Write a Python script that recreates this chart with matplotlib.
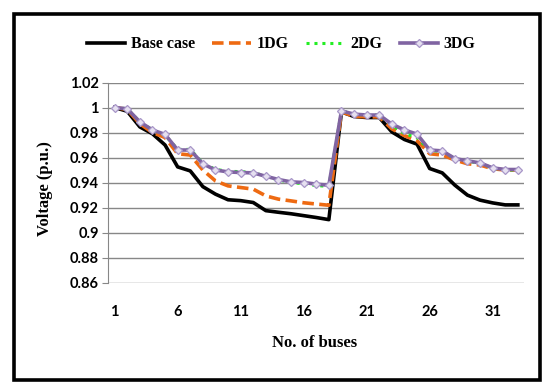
import numpy as np
import matplotlib
matplotlib.use('Agg')
import matplotlib.pyplot as plt
from matplotlib.patches import Rectangle

# Bus voltage profile (p.u.), 33 buses
buses = list(range(1, 34))
tick_buses = [1, 6, 11, 16, 21, 26, 31]

base_case = [1.0, 0.997, 0.9845, 0.979, 0.970, 0.9525, 0.9493, 0.9367, 0.9307, 0.9262,
             0.9255, 0.924, 0.9175, 0.9162, 0.915, 0.9135, 0.912, 0.9103,
             0.9965, 0.9928, 0.992, 0.992, 0.9805, 0.9744, 0.9707, 0.9512, 0.9477,
             0.9379, 0.9299, 0.9259, 0.9237, 0.9221, 0.9221]

dg1 = [1.0, 0.9985, 0.987, 0.980, 0.976, 0.963, 0.962, 0.950, 0.9413, 0.9373,
       0.936, 0.9347, 0.9293, 0.9267, 0.9253, 0.9238, 0.9228, 0.9218,
       0.9965, 0.993, 0.9925, 0.9925, 0.983, 0.9775, 0.9735, 0.963, 0.962,
       0.958, 0.955, 0.954, 0.951, 0.950, 0.950]

dg2 = [1.0, 0.999, 0.9885, 0.982, 0.978, 0.9665, 0.9665, 0.9555, 0.9505, 0.949,
       0.9487, 0.948, 0.945, 0.942, 0.940, 0.939, 0.9375, 0.937,
       0.9973, 0.9947, 0.994, 0.994, 0.986, 0.979, 0.976, 0.9655, 0.965,
       0.959, 0.957, 0.9555, 0.9515, 0.950, 0.950]

dg3 = [1.0, 0.999, 0.9885, 0.982, 0.9785, 0.966, 0.966, 0.955, 0.950, 0.9485,
       0.948, 0.9477, 0.945, 0.9424, 0.9405, 0.940, 0.9387, 0.9378,
       0.9973, 0.9947, 0.994, 0.994, 0.9867, 0.982, 0.9787, 0.966, 0.9653,
       0.9592, 0.9573, 0.9557, 0.9517, 0.9504, 0.9504]

fig = plt.figure(figsize=(5.5, 3.84), dpi=100)
ax = fig.add_axes([0.197, 0.2643, 0.756, 0.5208])

ax.plot(buses, base_case, color='black', lw=2.6, label='Base case', zorder=3)
ax.plot(buses, dg1, color='#EE6A12', lw=2.6, ls=(0, (3.2, 1.5)), label='1DG', zorder=4)
ax.plot(buses, dg2, color='#22EE22', lw=2.2, ls=(0, (1, 1.6)), label='2DG', zorder=5)
ax.plot(buses, dg3, color='#8064A2', lw=2.6, marker='D', ms=4.5, mfc='#E6E0F0',
        mec='#A896C8', mew=0.9, label='3DG', zorder=6)

ax.set_xlim(0.5, 33.5)
ax.set_ylim(0.86, 1.02)
ax.set_yticks(np.arange(0.86, 1.0201, 0.02))
ax.set_yticklabels(['0.86', '0.88', '0.9', '0.92', '0.94', '0.96', '0.98', '1', '1.02'])
ax.set_xticks(tick_buses)
ax.set_xticklabels([str(b) for b in tick_buses])
ax.grid(axis='y', color='#878787', lw=1.0)
ax.set_axisbelow(True)
for s in ['top', 'right', 'bottom']:
    ax.spines[s].set_visible(False)
ax.spines['left'].set_color('#878787')
ax.tick_params(axis='y', length=4, color='#878787', pad=3)
ax.tick_params(axis='x', length=0, pad=16)
for lab in ax.get_xticklabels() + ax.get_yticklabels():
    lab.set_fontfamily('Lato')
    lab.set_fontweight('bold')
    lab.set_fontsize(10.5)
    lab.set_color('black')

fig.text(45 / 550, 0.51, 'Voltage (p.u.)', rotation=90, ha='center', va='center',
         family='Liberation Serif', weight='bold', fontsize=12)
fig.text(315 / 550, 0.107, 'No. of buses', ha='center', va='center',
         family='Liberation Serif', weight='bold', fontsize=12)

fig.legend(loc='center', bbox_to_anchor=(0.511, 0.885), ncol=4, frameon=False,
           prop={'family': 'Liberation Serif', 'weight': 'bold', 'size': 11.5},
           handlelength=2.4, handletextpad=0.35, columnspacing=1.1)

fig.patches.append(Rectangle((0.0255, 0.0104), 0.9565, 0.953, transform=fig.transFigure,
                             fill=False, edgecolor='black', lw=2.6))

fig.savefig('out.png', dpi=100)
